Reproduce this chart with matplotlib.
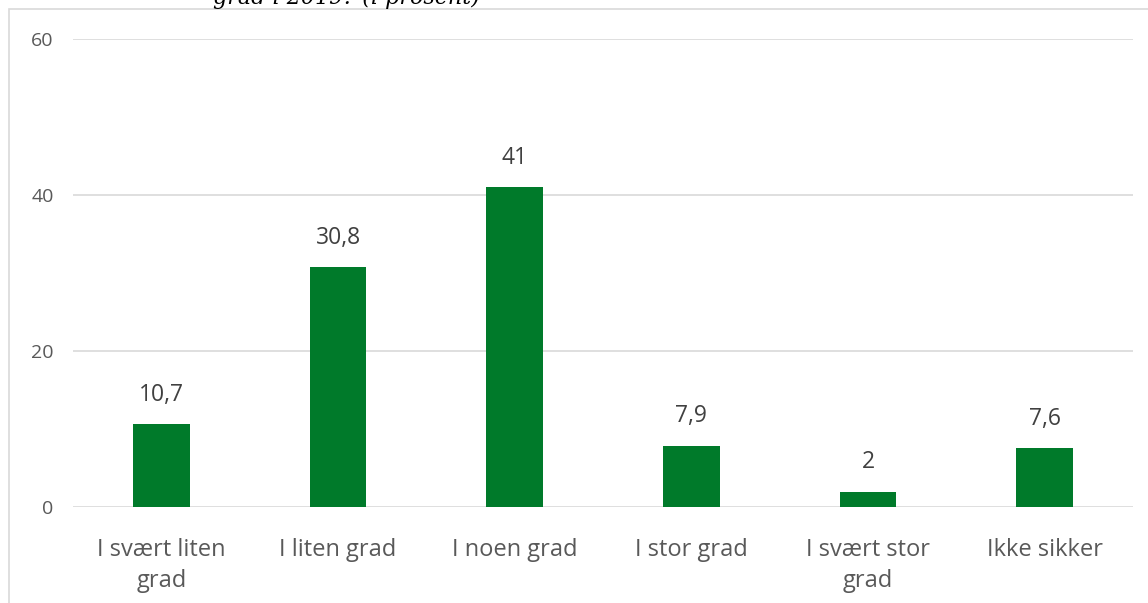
import numpy as np
import matplotlib.pyplot as plt
from matplotlib.patches import Rectangle

categories = ["I svært liten\ngrad", "I liten grad", "I noen grad", "I stor grad",
              "I svært stor\ngrad", "Ikke sikker"]
values = [10.7, 30.8, 41, 7.9, 2, 7.6]
labels = ["10,7", "30,8", "41", "7,9", "2", "7,6"]
yticks = [0, 20, 40, 60]

plt.rcParams['font.family'] = ['Open Sans', 'DejaVu Sans']

fig = plt.figure(figsize=(11.48, 6.03), dpi=100)
ax = fig.add_axes([0.0636, 0.159, 0.9234, 0.776])

# chart border
fig.patches.append(Rectangle((9/1148, -0.05), 1.1, 1 - 9/603 + 0.05, transform=fig.transFigure,
                             fill=False, edgecolor="#d9d9d9", linewidth=1.2))

# title of the chart, cut off at the top as in the source
fig.text(0.302, 1 - 4/603, "grad i 2019? (i prosent)", family="DejaVu Serif",
         style="italic", fontsize=16, ha="center", va="baseline", color="black")

x = np.arange(len(categories))
ax.bar(x, values, width=0.32, color="#007a2a", zorder=3)
for xi, v, lab in zip(x, values, labels):
    ax.text(xi, v + 2.2, lab, ha="center", va="bottom", fontsize=16.5, color="#404040")

ax.set_xlim(-0.5, len(categories) - 0.5)
ax.set_ylim(0, 60)
ax.set_yticks(yticks)
ax.set_xticks(x)
ax.set_xticklabels(categories, fontsize=17, color="#595959", linespacing=1.4)
ax.tick_params(axis="y", labelsize=14, labelcolor="#595959", length=0, pad=14)
ax.tick_params(axis="x", length=0, pad=22)
ax.grid(axis="y", color="#d9d9d9", linewidth=1.2, zorder=0)
for s in ax.spines.values():
    s.set_visible(False)

plt.savefig("out.png")
